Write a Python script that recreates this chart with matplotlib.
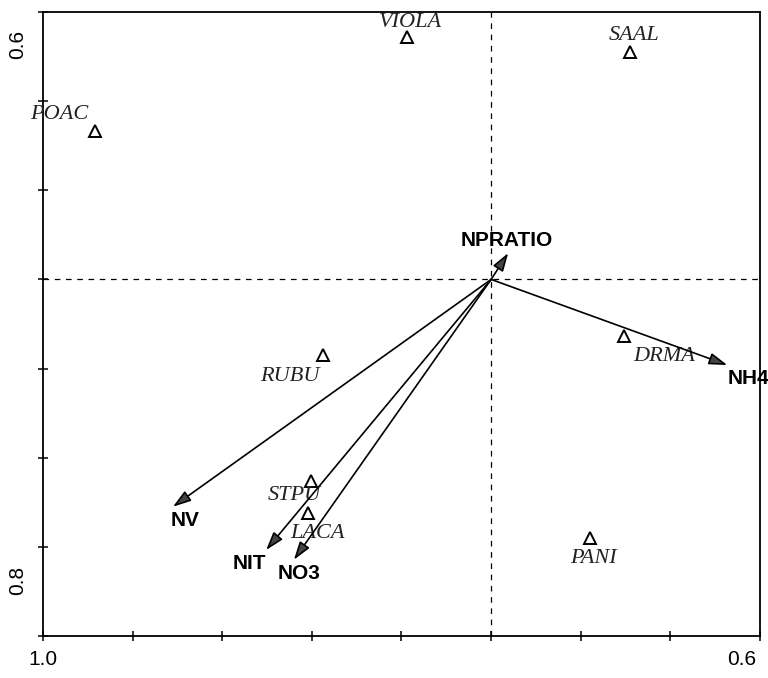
import numpy as np
import matplotlib.pyplot as plt

# species scores (axis 1, axis 2)
species = ["VIOLA", "SAAL", "POAC", "RUBU", "DRMA", "STPU", "LACA", "PANI"]
sp_x = [-0.187, 0.310, -0.883, -0.375, 0.297, -0.402, -0.408, 0.221]
sp_y = [0.543, 0.511, 0.332, -0.170, -0.126, -0.453, -0.523, -0.580]
# label offsets (points) for each species name
sp_off = [(2, 11), (3, 12), (-26, 12), (-24, -15), (29, -15), (-12, -10), (7, -15), (2, -15)]

# environmental variable arrows
env = ["NV", "NIT", "NO3", "NPRATIO", "NH4"]
env_x = [-0.710, -0.502, -0.440, 0.038, 0.527]
env_y = [-0.510, -0.607, -0.629, 0.059, -0.192]
env_off = [(9, -10), (-12, -10), (4, -10), (-1, 9), (15, -10)]

fig = plt.figure(figsize=(7.68, 6.78), dpi=100)
ax = fig.add_axes([43 / 768, 1 - 636 / 678, 717 / 768, 624 / 678])
ax.set_xlim(-1.0, 0.6)
ax.set_ylim(-0.8, 0.6)

# dashed zero lines
ax.axhline(0, color="black", lw=0.9, ls=(0, (4.5, 4.5)), zorder=1)
ax.axvline(0, color="black", lw=0.9, ls=(0, (4.5, 4.5)), zorder=1)

for s in ax.spines.values():
    s.set_linewidth(1.3)
ax.set_xticks(np.arange(-1.0, 0.61, 0.2))
ax.set_yticks(np.arange(-0.8, 0.61, 0.2))
ax.set_xticklabels([])
ax.set_yticklabels([])
ax.tick_params(direction="inout", length=7, width=1.1)

# axis end labels
lab = dict(fontsize=15, family="Liberation Sans")
ax.text(0.0, -0.022, "1.0", transform=ax.transAxes, ha="center", va="top", **lab)
ax.text(0.995, -0.022, "0.6", transform=ax.transAxes, ha="right", va="top", **lab)
ax.text(-0.035, 1 - 32 / 624, "0.6", transform=ax.transAxes, ha="center",
        va="center", rotation=90, **lab)
ax.text(-0.035, 56 / 624, "0.8", transform=ax.transAxes, ha="center",
        va="center", rotation=90, **lab)

# species
ax.plot(sp_x, sp_y, ls="none", marker="^", ms=8, mfc="white", mec="black",
        mew=1.4, zorder=3)
for name, x, y, off in zip(species, sp_x, sp_y, sp_off):
    ax.annotate(name, (x, y), xytext=off, textcoords="offset points",
                ha="center", va="center", fontsize=16, style="italic",
                family="Liberation Serif", color="#222222")

# environmental arrows
for name, x, y, off in zip(env, env_x, env_y, env_off):
    ax.annotate("", xy=(x, y), xytext=(0, 0),
                arrowprops=dict(arrowstyle="-|>,head_length=1.0,head_width=0.32",
                                mutation_scale=11, fc="#444444", ec="black",
                                lw=1.2, shrinkA=0, shrinkB=0),
                zorder=4)
    ax.annotate(name, (x, y), xytext=off, textcoords="offset points",
                ha="center", va="center", fontsize=15, fontweight="bold",
                family="Liberation Sans", annotation_clip=False, zorder=5)

fig.savefig("out.png", dpi=100)
